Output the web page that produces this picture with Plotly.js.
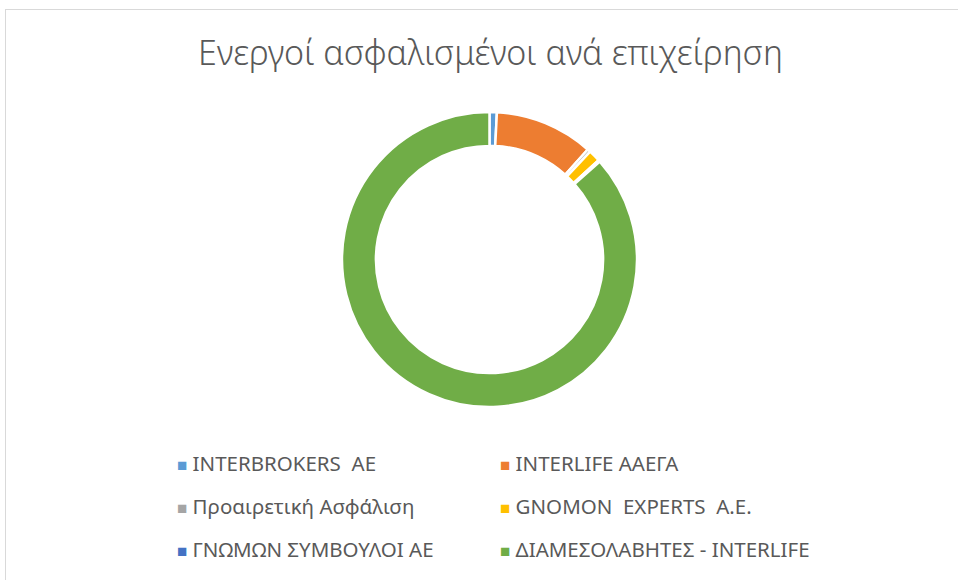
<!DOCTYPE html>
<html>
<head>
<meta charset="utf-8">
<script src="https://cdn.plot.ly/plotly-3.0.1.min.js"></script>
<style>
  html, body { margin: 0; padding: 0; background: #fff; overflow: hidden; }
  #chart { position: absolute; left: 0; top: 0; width: 958px; height: 580px; }
  #frame { position: absolute; left: 5px; top: 9px; width: 980px; height: 600px;
           border: 1px solid #d9d9d9; pointer-events: none; }
</style>
</head>
<body>
<div id="chart"></div>
<div id="frame"></div>
<script>
// ---- data ----
const titleText = "Ενεργοί ασφαλισμένοι ανά επιχείρηση";
const companies = [
  "INTERBROKERS  AE",
  "INTERLIFE ΑΑΕΓΑ",
  "Προαιρετική Ασφάλιση",
  "GNOMON  EXPERTS  A.E.",
  "ΓΝΩΜΩΝ ΣΥΜΒΟΥΛΟΙ ΑΕ",
  "ΔΙΑΜΕΣΟΛΑΒΗΤΕΣ - INTERLIFE"
];
const insured = [0.8, 10.8, 0.35, 1.3, 0.2, 86.55];
const colors = ["#5B9BD5", "#ED7D31", "#A5A5A5", "#FFC000", "#4472C4", "#70AD47"];

// ---- chart ----
const W = 958, H = 580;
const cx = 489.5, cy = 259.5, R = 147.5;

const trace = {
  type: "pie",
  labels: companies,
  values: insured,
  sort: false,
  direction: "clockwise",
  rotation: 0,
  hole: 0.77,
  textinfo: "none",
  hoverinfo: "label+value",
  marker: { colors: colors, line: { color: "#ffffff", width: 2.5 } },
  domain: { x: [(cx - R) / W, (cx + R) / W], y: [1 - (cy + R) / H, 1 - (cy - R) / H] },
  showlegend: false
};

// legend built from the same label / colour arrays
const legendRows = [463, 506, 549];
const legendCols = [175, 498];
const annotations = companies.map((name, i) => ({
  xref: "paper", yref: "paper",
  x: legendCols[i % 2] / W,
  y: 1 - legendRows[Math.floor(i / 2)] / H,
  xanchor: "left", yanchor: "middle",
  showarrow: false,
  align: "left",
  text: '<span style="color:' + colors[i] + ';font-size:17px">■</span> ' + name,
  font: { family: "'Noto Sans', sans-serif", size: 20.5, color: "#595959" }
}));

const layout = {
  width: W, height: H,
  margin: { l: 0, r: 0, t: 0, b: 0 },
  paper_bgcolor: "#ffffff",
  title: {
    text: titleText,
    x: 0.512, xanchor: "center",
    y: 1 - 53 / H, yanchor: "middle",
    font: { family: "'Noto Sans', 'Open Sans', sans-serif", size: 34, color: "#595959", weight: 300 }
  },
  annotations: annotations,
  showlegend: false
};

Plotly.newPlot("chart", [trace], layout, { displayModeBar: false, staticPlot: true });
</script>
</body>
</html>
